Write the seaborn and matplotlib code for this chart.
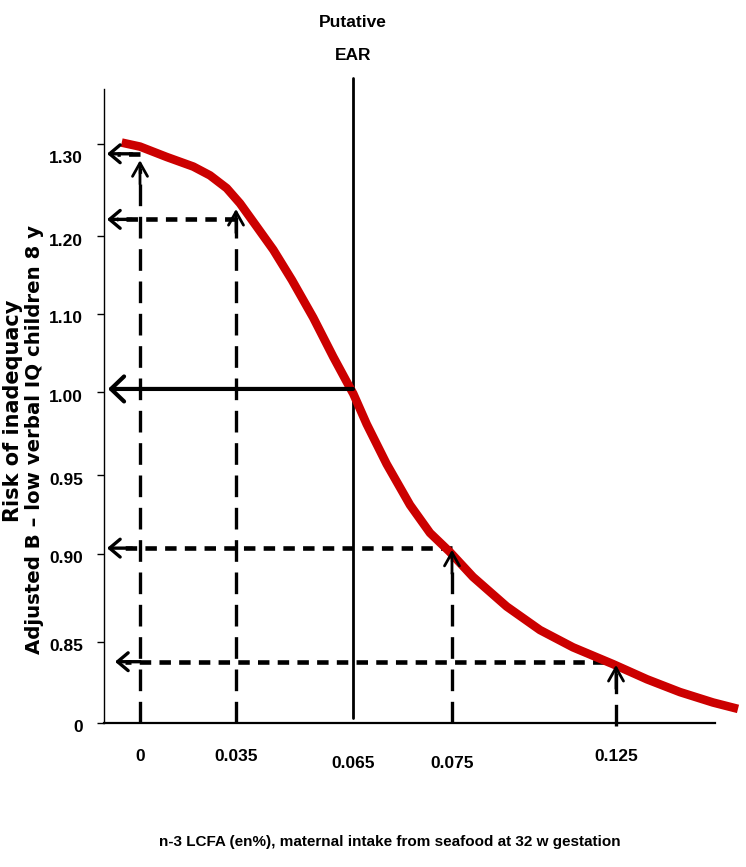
import numpy as np
import pandas as pd
import matplotlib
matplotlib.use("Agg")
import matplotlib.pyplot as plt
import matplotlib.transforms as mtransforms
import seaborn as sns

# eixo x: rótulos e posições (escala não linear no original)
x_labels = ['0', '0.035', '0.065', '0.075', '0.125']
x_pos = [0.36, 1.32, 2.49, 3.48, 5.12]

# eixo y: rótulos e posições
y_labels = ['0', '0.85', '0.90', '0.95', '1.00', '1.10', '1.20', '1.30']
y_pos = [0, 1.01, 2.11, 3.09, 4.13, 5.11, 6.08, 7.23]

# curva de risco
curve_x = [0.177, 0.36, 0.627, 0.893, 1.06, 1.227, 1.36, 1.527, 1.693, 1.88, 2.093, 2.293,
           2.427, 2.493, 2.627, 2.827, 3.06, 3.26, 3.46, 3.69, 4.027, 4.36, 4.69, 5.09,
           5.43, 5.76, 6.09, 6.34]
curve_y = [7.25, 7.20, 7.07, 6.95, 6.84, 6.68, 6.49, 6.20, 5.91, 5.53, 5.06, 4.57,
           4.26, 4.11, 3.73, 3.23, 2.72, 2.37, 2.13, 1.82, 1.45, 1.156, 0.94, 0.73,
           0.54, 0.38, 0.25, 0.17]

# linhas de leitura tracejadas
read_x = [0.36, 1.32, 3.48, 5.12]
read_top = [7.03, 6.42, 2.16, 0.72]
read_bottom = [0.0, 0.0, -0.01, -0.05]
read_level = [7.11, 6.29, 2.18, 0.76]
read_start = [0.36, 1.32, 3.48, 5.0]
arrow_tip = [0.03, 0.03, 0.03, 0.11]

# EAR
ear_x = 2.49
ear_level = 4.17
ear_bottom = 0.06
ear_top = 8.06

sns.set_theme(style='white')
lab_font = ['Liberation Sans', 'DejaVu Sans']

fig = plt.figure(figsize=(7.46, 8.67), dpi=100)
ax = fig.add_axes([104 / 746, 144.5 / 867, 611 / 746, 633.5 / 867])

df = pd.DataFrame({'x': curve_x, 'y': curve_y})
sns.lineplot(data=df, x='x', y='y', ax=ax, color='#cc0000', lw=6.2, sort=False,
             solid_capstyle='butt', solid_joinstyle='round', zorder=4, clip_on=False)

# verticais tracejadas + setas
for xv, top, bot, lev, x0, tip in zip(read_x, read_top, read_bottom, read_level,
                                      read_start, arrow_tip):
    ax.plot([xv, xv], [bot, top - 0.1], color='black', lw=2.4, dashes=(6.5, 3.2),
            clip_on=False, zorder=3)
    ax.annotate('', xy=(xv, top), xytext=(xv, top - 0.3),
                arrowprops=dict(arrowstyle='->,head_length=0.8,head_width=0.45',
                                lw=2, color='black', shrinkA=0, shrinkB=0),
                annotation_clip=False, zorder=5)
    ax.plot([x0, tip + 0.1], [lev, lev], color='black', lw=3.3, dashes=(2.5, 1.8),
            clip_on=False, zorder=3)
    ax.annotate('', xy=(tip, lev), xytext=(tip + 0.25, lev),
                arrowprops=dict(arrowstyle='->,head_length=0.38,head_width=0.32',
                                mutation_scale=20, lw=2.4, color='black',
                                shrinkA=0, shrinkB=0),
                annotation_clip=False, zorder=5)

# linha EAR
ax.plot([ear_x, ear_x], [ear_bottom, ear_top], color='black', lw=2, clip_on=False, zorder=3)
ax.annotate('', xy=(0.04, ear_level), xytext=(ear_x, ear_level),
            arrowprops=dict(arrowstyle='->,head_length=0.47,head_width=0.45',
                            mutation_scale=20, lw=3, color='black',
                            shrinkA=0, shrinkB=0),
            annotation_clip=False, zorder=5)
ax.text(ear_x, 8.75, 'Putative', ha='center', va='center', fontsize=12.5,
        fontweight='bold', family=lab_font, color='black', clip_on=False)
ax.text(ear_x, 8.34, 'EAR', ha='center', va='center', fontsize=12.5,
        fontweight='bold', family=lab_font, color='black', clip_on=False)

ax.set_xlim(0, 6.11)
ax.set_ylim(0, 7.92)
ax.set_xticks(x_pos)
ax.set_xticklabels(x_labels, family=lab_font, fontsize=12.5, fontweight='bold', color='black')
ax.set_yticks(y_pos)
ax.set_yticklabels(y_labels, family=lab_font, fontsize=12.5, fontweight='bold', color='black')
ax.tick_params(axis='x', length=0, pad=19)
ax.tick_params(axis='y', length=5, width=1, color='black', direction='out', left=True, pad=10)

down = lambda pts: mtransforms.ScaledTranslation(0, -pts / 72, fig.dpi_scale_trans)
for lab in ax.get_xticklabels():
    if lab.get_text() in ('0.065', '0.075'):
        lab.set_transform(lab.get_transform() + down(5))
for lab in ax.get_yticklabels():
    shift = 9 if lab.get_text() == '1.30' else 2.5
    lab.set_transform(lab.get_transform() + down(shift))

sns.despine(ax=ax)
ax.spines['left'].set_color('black')
ax.spines['left'].set_linewidth(1)
ax.spines['bottom'].set_color('black')
ax.spines['bottom'].set_linewidth(1.6)

ax.set_xlabel('n-3 LCFA (en%), maternal intake from seafood at 32 w gestation',
              family=lab_font, fontsize=11, fontweight='bold', color='black')
ax.xaxis.set_label_coords(0.467, -0.178)
ax.set_ylabel('')

fig.text(13 / 746, 1 - 411 / 867, 'Risk of inadequacy', rotation=90, ha='center',
         va='center', fontsize=15, fontweight='bold', family='DejaVu Sans', color='black')
fig.text(35 / 746, 1 - 439 / 867, 'Adjusted B \u2013 low verbal IQ children 8 y', rotation=90,
         ha='center', va='center', fontsize=14.2, fontweight='bold', family='DejaVu Sans',
         color='black')

fig.savefig('out.png', dpi=100)
